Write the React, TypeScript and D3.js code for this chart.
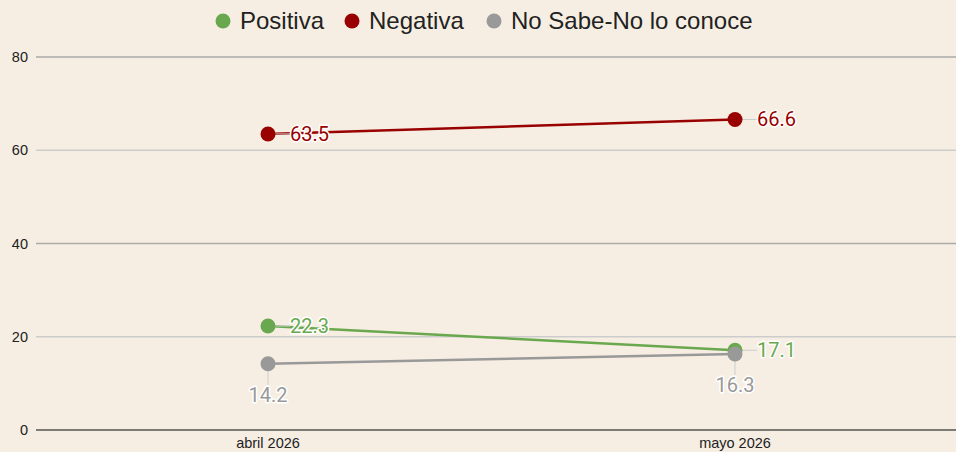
import React, { useEffect, useRef } from 'react';
import * as d3 from 'd3';

const categories = ['abril 2026', 'mayo 2026'];
const seriesNames = ['Positiva', 'Negativa', 'No Sabe-No lo conoce'];
const positiva = [22.3, 17.1];
const negativa = [63.5, 66.6];
const noSabe = [14.2, 16.3];
const yTicks = [0, 20, 40, 60, 80];
const colors = ['#6aa84f', '#990000', '#999999'];

const App: React.FC = () => {
  const svgRef = useRef<SVGSVGElement>(null);

  useEffect(() => {
    if (!svgRef.current) return;
    const width = 956;
    const height = 452;
    const svg = d3.select(svgRef.current);
    svg.selectAll('*').remove();

    svg.append('rect').attr('width', width).attr('height', height).attr('fill', '#f6eee2');

    const x = d3.scalePoint<string>().domain(categories).range([34.5, 968.5]).padding(0.5);
    const y = d3.scaleLinear().domain([0, 80]).range([430, 57]);

    // grid
    const grid = svg.append('g');
    yTicks.forEach(t => {
      grid.append('line')
        .attr('x1', 36).attr('x2', width)
        .attr('y1', y(t)).attr('y2', y(t))
        .attr('stroke', t === 0 ? '#555' : (t % 40 === 0 ? '#aaa' : '#ccc'))
        .attr('stroke-width', 1.5);
      grid.append('text')
        .attr('x', 28).attr('y', y(t)).attr('dy', '0.35em')
        .attr('text-anchor', 'end')
        .style('font-family', 'Liberation Sans, Arial, sans-serif')
        .style('font-size', '14.5px')
        .attr('fill', '#222')
        .text(t);
    });

    categories.forEach(c => {
      svg.append('text')
        .attr('x', x(c)!).attr('y', 448)
        .attr('text-anchor', 'middle')
        .style('font-family', 'Liberation Sans, Arial, sans-serif')
        .style('font-size', '14.5px')
        .attr('fill', '#222')
        .text(c);
    });

    const series = [positiva, negativa, noSabe];
    const line = d3.line<number>().x((_, i) => x(categories[i])!).y(d => y(d));

    // gray first, then green, then red
    [2, 0, 1].forEach(si => {
      svg.append('path')
        .datum(series[si])
        .attr('fill', 'none')
        .attr('stroke', colors[si])
        .attr('stroke-width', 2.5)
        .attr('d', line);
    });

    const labels = svg.append('g');
    const addLabel = (si: number, i: number, pos: 'right' | 'below') => {
      const v = series[si][i];
      const cx = x(categories[i])!;
      const cy = y(v);
      let lx = cx, ly = cy;
      let anchor = 'start';
      if (pos === 'right') {
        lx = cx + 22;
        labels.append('line').attr('x1', cx).attr('x2', lx).attr('y1', cy).attr('y2', cy)
          .attr('stroke', '#ccc').attr('stroke-width', 1);
      } else {
        ly = cy + 31;
        anchor = 'middle';
        labels.append('line').attr('x1', cx).attr('x2', cx).attr('y1', cy).attr('y2', ly - 10)
          .attr('stroke', '#ccc').attr('stroke-width', 1);
      }
      labels.append('text')
        .attr('x', lx).attr('y', ly).attr('dy', '0.35em')
        .attr('text-anchor', anchor)
        .style('font-family', 'Roboto, sans-serif')
        .style('font-size', '20px')
        .attr('fill', colors[si])
        .attr('stroke', '#fff').attr('stroke-width', 3).attr('paint-order', 'stroke')
        .attr('stroke-linejoin', 'round')
        .text(v.toFixed(1));
    };

    // green dots, then gray on top, then red
    [0, 2, 1].forEach(si => {
      svg.append('g').selectAll('circle')
        .data(series[si])
        .enter().append('circle')
        .attr('cx', (_, i) => x(categories[i])!)
        .attr('cy', d => y(d))
        .attr('r', 7.5)
        .attr('fill', colors[si]);
    });

    addLabel(1, 0, 'right');
    addLabel(1, 1, 'right');
    addLabel(0, 0, 'right');
    addLabel(0, 1, 'right');
    addLabel(2, 0, 'below');
    addLabel(2, 1, 'below');

    // legend
    const legendX = [223, 352, 494];
    const lg = svg.append('g');
    seriesNames.forEach((n, i) => {
      lg.append('circle').attr('cx', legendX[i]).attr('cy', 21).attr('r', 7.5).attr('fill', colors[i]);
      lg.append('text')
        .attr('x', legendX[i] + 17).attr('y', 21).attr('dy', '0.35em')
        .style('font-family', 'Liberation Sans, Arial, sans-serif')
        .style('font-size', '24px')
        .attr('fill', '#222')
        .text(n);
    });
  }, []);

  return (
    <svg ref={svgRef} width={956} height={452} style={{ position: 'absolute', left: 0, top: 0 }}></svg>
  );
};

export default App;
